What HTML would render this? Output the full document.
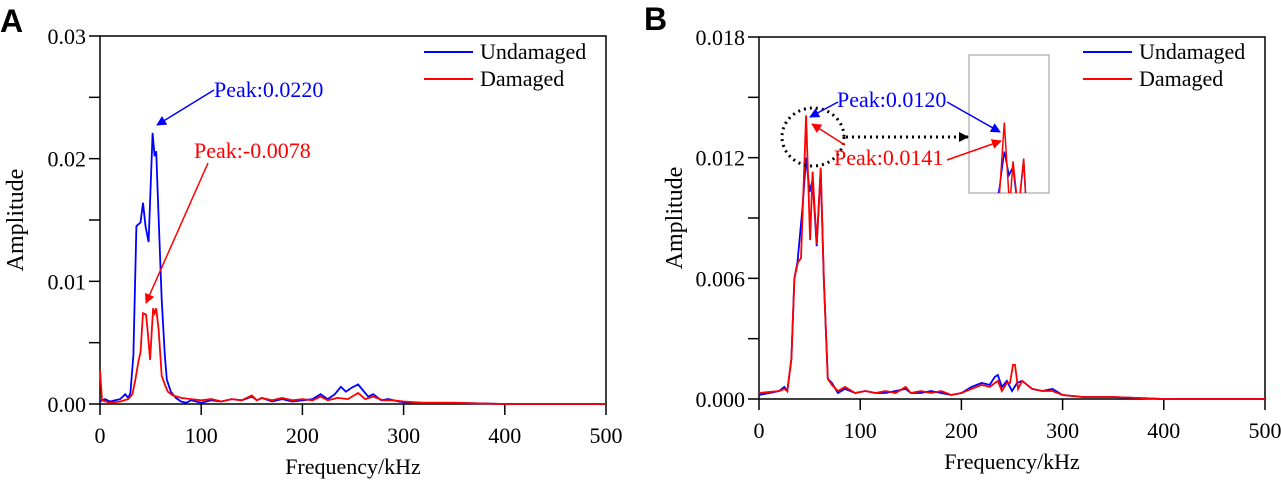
<!DOCTYPE html>
<html><head><meta charset="utf-8"><style>
body{margin:0;background:#fff;}
svg{display:block;font-family:"Liberation Serif",serif;}
</style></head><body>
<svg id="s" width="1281" height="480">
<defs>
<marker id="mb" markerWidth="10" markerHeight="10" refX="9" refY="5" orient="auto" markerUnits="userSpaceOnUse" viewBox="0 0 10 10"><path d="M0,0L10,5L0,10z" fill="#00f"/></marker>
<marker id="mr" markerWidth="10" markerHeight="10" refX="9" refY="5" orient="auto" markerUnits="userSpaceOnUse" viewBox="0 0 10 10"><path d="M0,0L10,5L0,10z" fill="#f00"/></marker>
<marker id="mk" markerWidth="10" markerHeight="10" refX="9" refY="5" orient="auto" markerUnits="userSpaceOnUse" viewBox="0 0 10 10"><path d="M0,0L10,5L0,10z" fill="#000"/></marker>
<clipPath id="ci"><rect x="969" y="55" width="80" height="138"/></clipPath>
</defs>
<g id="gA"></g>
<g id="gB"></g>

<text x="0" y="32" font-family="Liberation Sans,sans-serif" font-weight="bold" font-size="32">A</text>
<text x="644" y="30" font-family="Liberation Sans,sans-serif" font-weight="bold" font-size="32">B</text>

<g font-size="22">
<line x1="424" y1="52" x2="473" y2="52" stroke="#00f" stroke-width="2"/>
<text x="480" y="59">Undamaged</text>
<line x1="424" y1="79" x2="473" y2="79" stroke="#f00" stroke-width="2"/>
<text x="480" y="86">Damaged</text>
</g>
<g font-size="22">
<line x1="1083" y1="52" x2="1132" y2="52" stroke="#00f" stroke-width="2"/>
<text x="1139" y="59">Undamaged</text>
<line x1="1083" y1="79" x2="1132" y2="79" stroke="#f00" stroke-width="2"/>
<text x="1139" y="86">Damaged</text>
</g>

<g font-size="22">
<text x="214" y="97" fill="#00f">Peak:0.0220</text>
<line x1="214" y1="90" x2="157" y2="125" stroke="#00f" stroke-width="1.5" marker-end="url(#mb)"/>
<text x="194" y="158" fill="#f00">Peak:-0.0078</text>
<line x1="208" y1="163" x2="146" y2="303" stroke="#f00" stroke-width="1.5" marker-end="url(#mr)"/>
</g>

<g font-size="22">
<rect x="969" y="55" width="80" height="138" fill="none" stroke="#999" stroke-width="1"/>
<ellipse cx="813" cy="137" rx="31" ry="29" fill="none" stroke="#000" stroke-width="3" stroke-dasharray="2,4"/>
<line x1="846" y1="137" x2="968" y2="137" stroke="#000" stroke-width="3" stroke-dasharray="2,4" marker-end="url(#mk)"/>
<text x="837" y="107" fill="#00f">Peak:0.0120</text>
<line x1="838" y1="102" x2="810" y2="117" stroke="#00f" stroke-width="1.5" marker-end="url(#mb)"/>
<line x1="947" y1="102" x2="1000" y2="132" stroke="#00f" stroke-width="1.5" marker-end="url(#mb)"/>
<text x="834" y="165" fill="#f00">Peak:0.0141</text>
<line x1="845" y1="145" x2="812" y2="124" stroke="#f00" stroke-width="1.5" marker-end="url(#mr)"/>
<line x1="947" y1="160" x2="1001" y2="141" stroke="#f00" stroke-width="1.5" marker-end="url(#mr)"/>
</g>
<g id="inset" clip-path="url(#ci)"></g>
</svg>
<script>
// Panel A data
const fAU=[0,5,10,15,20,25,28,30,33,36,40,42.5,45,48,52,54,55.5,58,61,64,66,70,75,80,85,90,95,100,110,120,130,140,150,155,160,170,180,190,200,210,218,225,232,238,243,248,255,260,265,270,278,285,295,305,320,350,400,450,500];
const vAU=[0.0002,0.0004,0.0002,0.0003,0.0004,0.0008,0.0005,0.0009,0.004,0.0145,0.0148,0.0164,0.0145,0.0132,0.0221,0.0202,0.0206,0.015,0.0085,0.004,0.002,0.001,0.0005,0.0002,0.0001,0.0003,0.0002,0.0001,0.0003,0.0002,0.0004,0.0003,0.0006,0.0003,0.0005,0.0002,0.0004,0.0002,0.0003,0.0004,0.0008,0.0004,0.0008,0.0014,0.001,0.0013,0.0016,0.0011,0.0006,0.0008,0.0003,0.0004,0.0002,0.0001,0.0001,0.0001,0,0,0];
const fAD=[0,2,10,20,28,32,35,38,40,42.5,45.5,47,49.5,52.5,54,55.5,58,61,64,67,72,80,90,100,110,120,130,140,150,155,160,170,180,190,200,210,218,225,235,245,255,262,270,280,290,300,320,350,400,500];
const vAD=[0.0028,0.0003,0.0001,0.0002,0.0004,0.0008,0.002,0.0035,0.0042,0.0074,0.0073,0.006,0.0036,0.0078,0.0074,0.0078,0.006,0.0023,0.0016,0.001,0.0007,0.0005,0.0004,0.0003,0.0004,0.0002,0.0004,0.0003,0.0007,0.0003,0.0005,0.0003,0.0005,0.0003,0.0004,0.0003,0.0006,0.0003,0.0005,0.0004,0.0009,0.0004,0.0006,0.0003,0.0003,0.0002,0.0001,0.0001,0,0];
const ticksAX=[0,100,200,300,400,500];
const ticksAY=["0.00","0.01","0.02","0.03"];
// Panel B data
const fBU=[0,20,25,28,32,35,38,40,43,46.5,50,53,57,61,64,68,72,78,85,95,105,115,125,135,145,150,160,170,180,190,200,210,220,228,233,236,240,245,250,255,260,265,270,280,290,300,320,350,400,500];
const vBU=[0.0002,0.0004,0.0006,0.0004,0.002,0.006,0.0068,0.0079,0.0095,0.012,0.0103,0.0109,0.0076,0.0114,0.006,0.001,0.0008,0.0003,0.0005,0.0003,0.0004,0.0003,0.0003,0.0004,0.0005,0.0003,0.0003,0.0004,0.0003,0.0002,0.0003,0.0006,0.0008,0.0007,0.0011,0.0012,0.0006,0.0009,0.0004,0.0008,0.0009,0.0007,0.0005,0.0004,0.0005,0.0002,0.0001,0.0001,0,0];
const fBD=[0,20,25,28,32,35,38.5,41.5,46.5,50.5,53,57,61,64,68,72,78,85,95,105,115,125,135,145,150,160,170,180,190,200,210,220,228,236,240,245,248,251,253,256,260,265,270,280,290,300,320,350,400,500];
const vBD=[0.0003,0.0004,0.0005,0.0004,0.002,0.006,0.0068,0.007,0.0141,0.0079,0.0113,0.0077,0.0115,0.006,0.001,0.0007,0.0004,0.0006,0.0003,0.0004,0.0003,0.0004,0.0003,0.0006,0.0003,0.0004,0.0003,0.0004,0.0002,0.0003,0.0005,0.0007,0.0006,0.0009,0.0004,0.0008,0.0008,0.0017,0.0017,0.0005,0.0009,0.0007,0.0005,0.0004,0.0004,0.0002,0.0001,0.0001,0,0];
const ticksBX=[0,100,200,300,400,500];
const ticksBY=["0.000","0.006","0.012","0.018"];

const NS="http://www.w3.org/2000/svg";
function mk(tag,attrs,parent){const e=document.createElementNS(NS,tag);for(const k in attrs)e.setAttribute(k,attrs[k]);parent.appendChild(e);return e;}

function panel(g,x0,x1,y0,y1,ymax,tx,ty,series,nm){
  const sx=f=>x0+(f/500)*(x1-x0);
  const sy=v=>y0-(v/ymax)*(y0-y1);
  const fr=mk('rect',{x:x0,y:y1,width:x1-x0,height:y0-y1,fill:'none',stroke:'#000','stroke-width':1.5},g);
  
  
  tx.forEach(t=>{
    const x=sx(t);
    mk('line',{x1:x,y1:y0,x2:x,y2:y0+11,stroke:'#000','stroke-width':1.5},g);
    const e=mk('text',{x:x,y:y0+39,'text-anchor':'middle','font-size':22},g);e.textContent=t;
    
    
  });
  ty.forEach((t,i)=>{
    const y=sy(parseFloat(t));
    mk('line',{x1:x0-11,y1:y,x2:x0,y2:y,stroke:'#000','stroke-width':1.5},g);
    if(i<ty.length-1){const ym=sy((parseFloat(t)+parseFloat(ty[i+1]))/2);mk('line',{x1:x0-11,y1:ym,x2:x0,y2:ym,stroke:'#000','stroke-width':1.5},g);}
    const e=mk('text',{x:x0-14,y:y+8,'text-anchor':'end','font-size':22},g);e.textContent=t;
    
    
  });
  let e=mk('text',{x:(x0+x1)/2,y:y0+70,'text-anchor':'middle','font-size':22},g);e.textContent='Frequency/kHz';
  
  
  e=mk('text',{x:0,y:0,'text-anchor':'middle','font-size':24,transform:`translate(${x0-77},${(y0+y1)/2}) rotate(-90)`},g);e.textContent='Amplitude';
  
  
  series.forEach(s=>{
    const d=s.f.map((f,i)=>(i?'L':'M')+sx(f).toFixed(1)+','+sy(s.v[i]).toFixed(1)).join('');
    const p=mk('path',{d:d,fill:'none',stroke:s.c,'stroke-width':1.8},g);
    
    
  });
}
panel(document.getElementById('gA'),100,606,404,36,0.03,ticksAX,ticksAY,[{f:fAU,v:vAU,c:'#00f',n:'undamaged'},{f:fAD,v:vAD,c:'#f00',n:'damaged'}],'panel-a');
panel(document.getElementById('gB'),759,1265,399,37,0.018,ticksBX,ticksBY,[{f:fBU,v:vBU,c:'#00f',n:'undamaged'},{f:fBD,v:vBD,c:'#f00',n:'damaged'}],'panel-b');
// inset: x 20-80 kHz, y 0.009-0.019
(function(){
  const g=document.getElementById('inset');
  const sx=f=>969+(f-20)/60*80, sy=v=>193-(v-0.009)/0.01*138;
  [{f:fBU,v:vBU,c:'#00f',n:'undamaged'},{f:fBD,v:vBD,c:'#f00',n:'damaged'}].forEach(s=>{
    const d=s.f.map((f,i)=>(i?'L':'M')+sx(f).toFixed(1)+','+sy(s.v[i]).toFixed(1)).join('');
    const p=mk('path',{d:d,fill:'none',stroke:s.c,'stroke-width':1.5},g);
    
    
  });
})();
</script>
</body></html>
